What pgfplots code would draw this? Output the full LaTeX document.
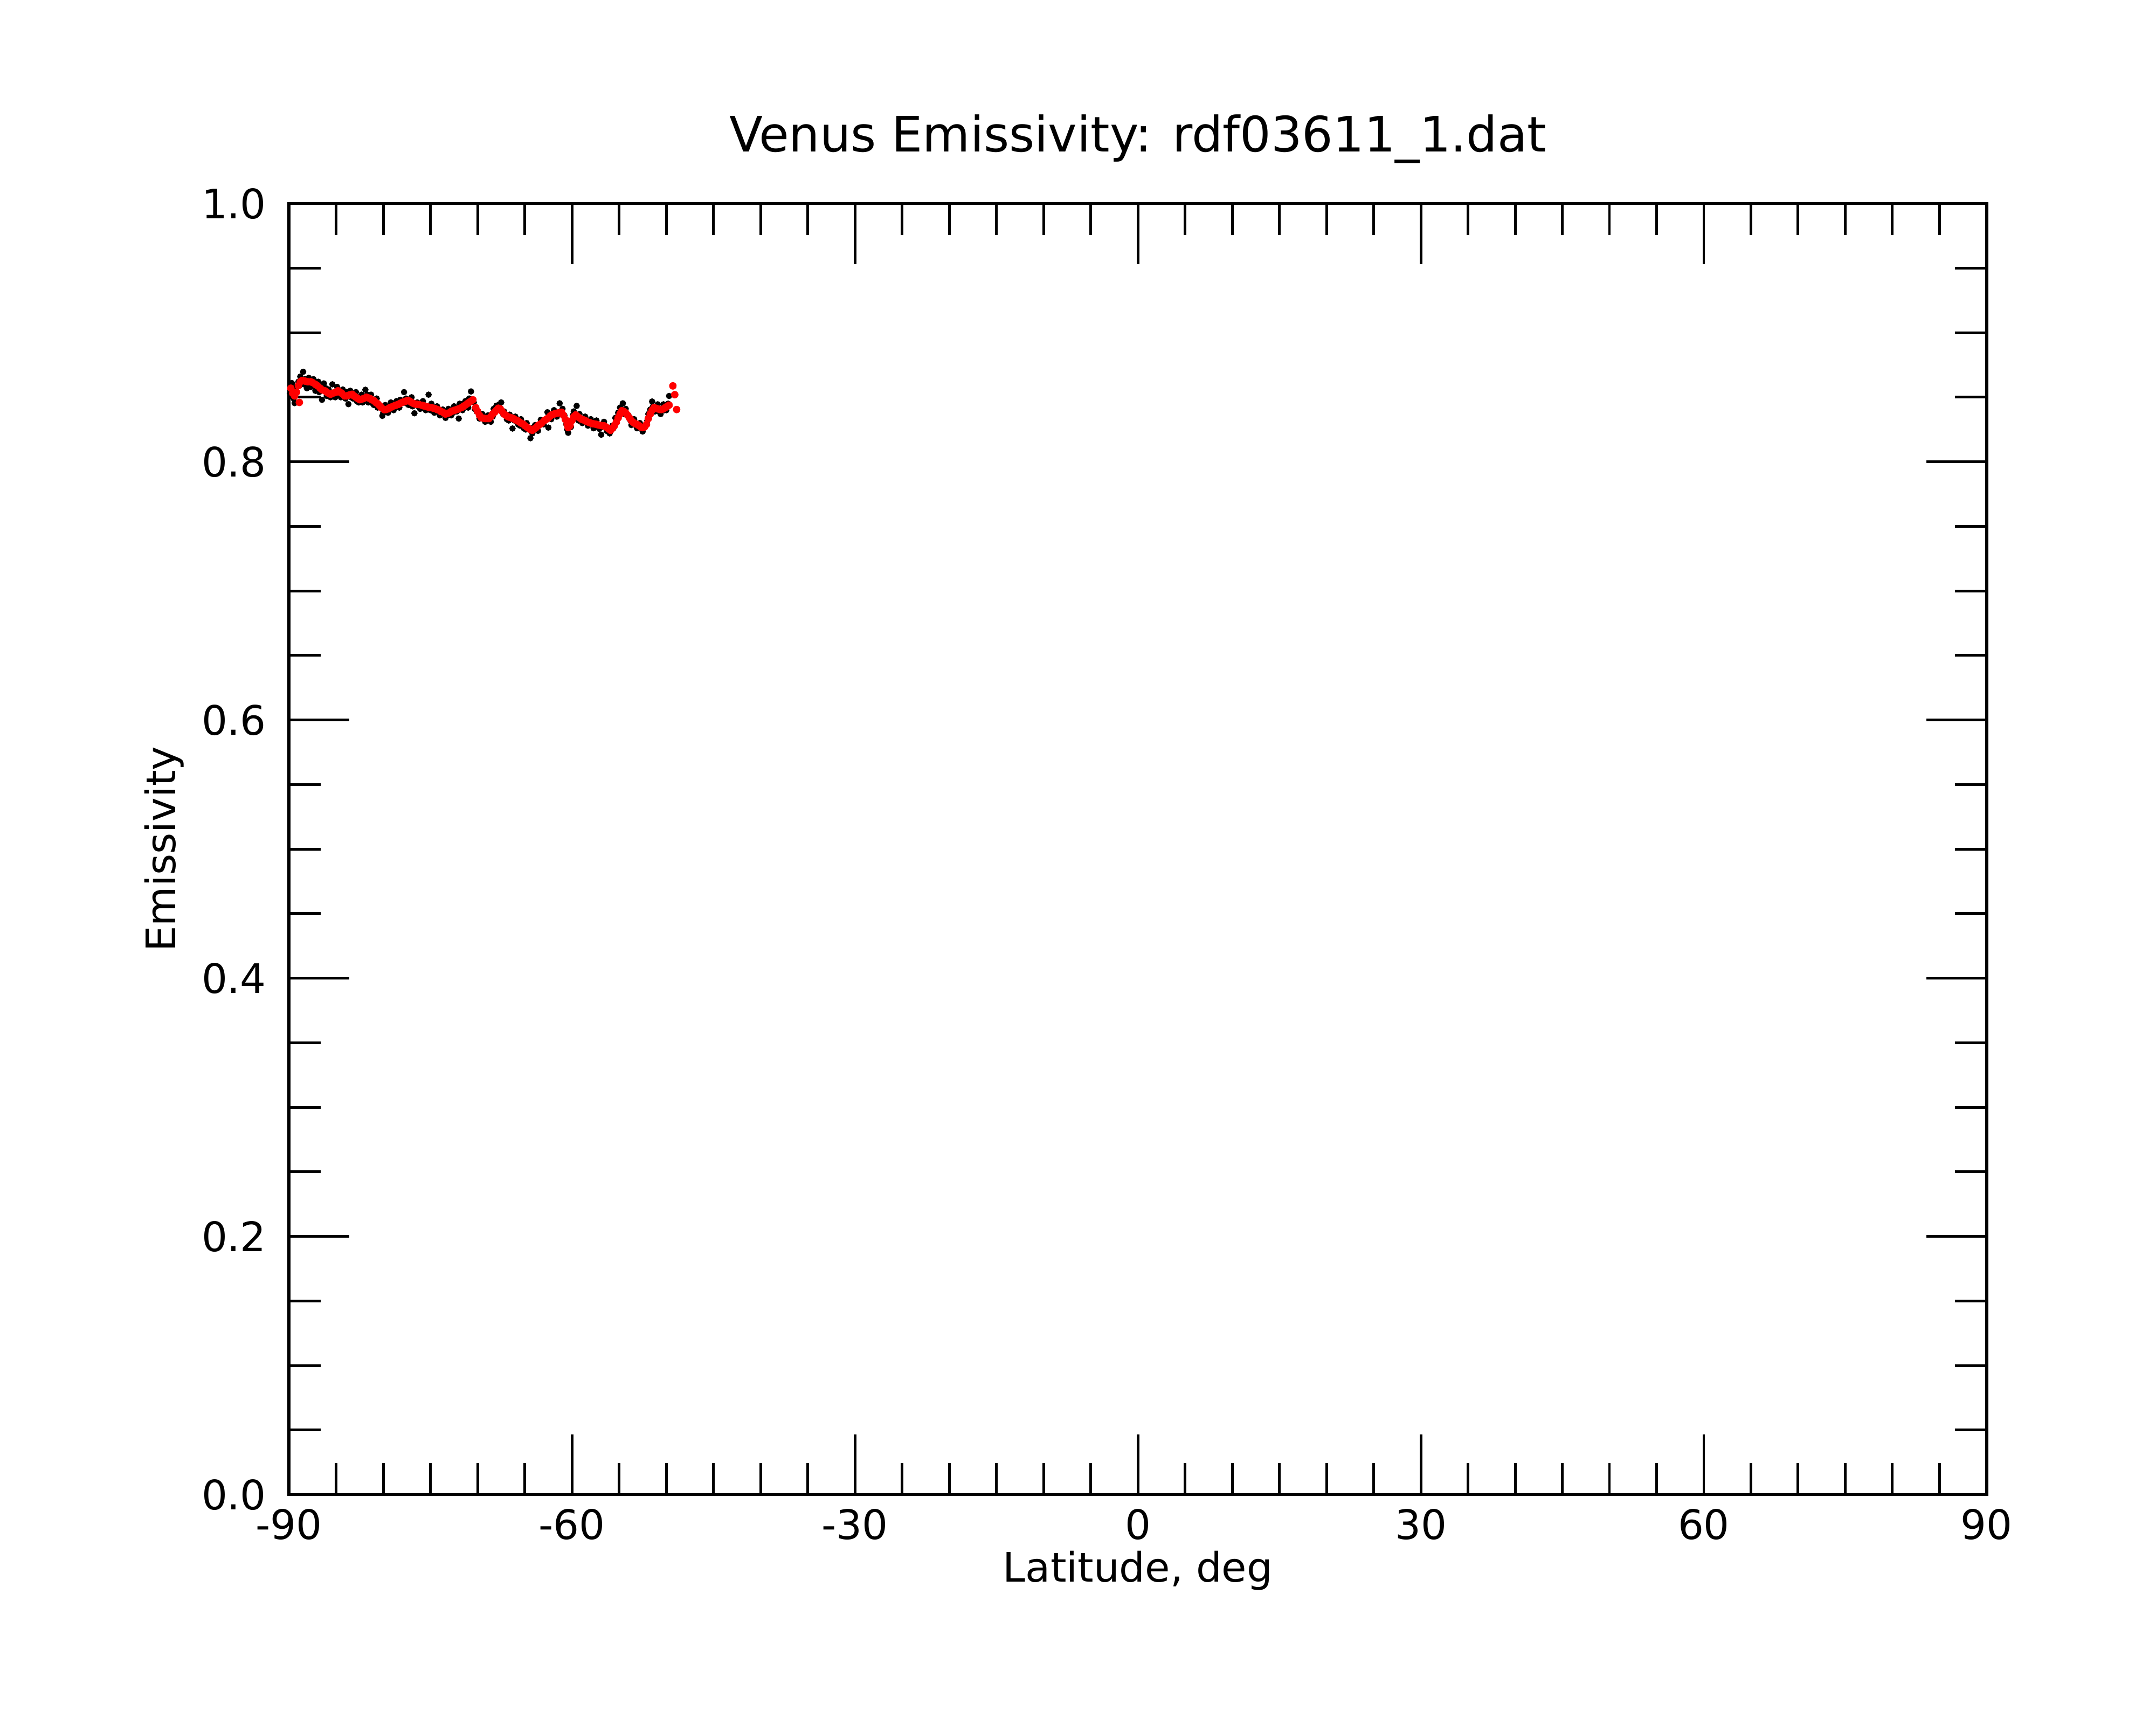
\documentclass[border=0pt]{standalone}
\usepackage{fontspec}
\setmainfont{DejaVu Sans}
\usepackage{pgfplots}
\pgfplotsset{compat=1.18}
\begin{document}
\begin{tikzpicture}
\begin{axis}[
  name=ax,
  scale only axis,
  width=455.3pt, height=346.2pt,
  xmin=-90, xmax=90, ymin=0, ymax=1,
  xtick={-90,-60,-30,0,30,60,90},
  xticklabels={-90,-60,-30,0,30,60,90},
  ytick={0,0.2,0.4,0.6,0.8,1.0},
  yticklabels={0.0,0.2,0.4,0.6,0.8,1.0},
  minor x tick num=5,
  minor y tick num=3,
  tick align=inside,
  major tick length=16.2pt,
  minor tick length=8.5pt,
  axis line style={line width=0.8pt},
  every tick/.style={black, line width=0.72pt},
  tick label style={font=\fontsize{10.9}{13}\selectfont},
  xticklabel style={anchor=base, inner sep=0pt, yshift=-11.9pt},
  yticklabel style={anchor=east, inner sep=0pt, xshift=-5.9pt},
  label style={font=\fontsize{10.9}{13}\selectfont},
  xlabel={Latitude, deg},
  ylabel={Emissivity},
  xlabel style={at={(axis description cs:0.5,-0.0676)}, anchor=base, inner sep=0pt},
  ylabel style={at={(axis description cs:-0.0668,0.5)}, anchor=base, inner sep=0pt},
  title={Venus Emissivity: rdf03611\_1.dat},
  title style={at={(axis description cs:0.5,1.04015)}, anchor=base, yshift=-6pt, inner sep=0pt, font=\fontsize{13.1}{15}\selectfont},
  clip=false,
]
% short black segment
\addplot[black, line width=0.55pt] coordinates {(-89.8,0.8505) (-86.6,0.8505)};
% black data points
\addplot[black, only marks, mark=*, mark size=0.8pt, mark options={solid, fill=black, draw=black, line width=0.1pt}] coordinates {
(-89.9,0.853) (-89.7,0.861) (-89.5,0.849) (-89.4,0.8455) (-89.2,0.858) (-89.0,0.862)
(-88.8,0.866) (-88.5,0.8697) (-88.3,0.864) (-88.1,0.857) (-87.9,0.865) (-87.7,0.858)
(-87.4,0.864) (-87.2,0.855) (-86.9,0.862) (-86.7,0.857) (-86.5,0.848) (-86.3,0.8607)
(-86.0,0.851) (-85.8,0.856) (-85.4,0.860) (-85.1,0.850) (-84.9,0.858) (-84.6,0.852)
(-84.3,0.856) (-84.0,0.849) (-83.7,0.8447) (-83.5,0.855) (-83.2,0.849) (-82.9,0.854)
(-82.6,0.846) (-82.3,0.852) (-81.9,0.8558) (-81.6,0.846) (-81.3,0.852) (-81.0,0.844)
(-80.7,0.849) (-80.4,0.843) (-80.1,0.8356) (-79.8,0.844) (-79.5,0.838) (-79.2,0.846)
(-78.9,0.840) (-78.6,0.847) (-78.3,0.842) (-77.8,0.854) (-77.6,0.849) (-77.3,0.844)
(-77.0,0.850) (-76.7,0.8376) (-76.4,0.846) (-76.1,0.841) (-75.8,0.847) (-75.5,0.840)
(-75.2,0.852) (-74.9,0.845) (-74.6,0.838) (-74.3,0.843) (-74.0,0.836) (-73.7,0.8405)
(-73.4,0.834) (-73.1,0.841) (-72.8,0.836) (-72.5,0.843) (-72.0,0.8335) (-71.9,0.845)
(-71.6,0.840) (-71.3,0.847) (-71.0,0.842) (-70.7,0.8545) (-70.4,0.846) (-70.1,0.839)
(-69.8,0.8335) (-69.5,0.837) (-69.2,0.831) (-68.9,0.836) (-68.6,0.831) (-68.3,0.841)
(-68.0,0.8435) (-67.7,0.8445) (-67.5,0.846) (-67.2,0.839) (-66.9,0.833) (-66.6,0.8365)
(-66.3,0.8258) (-66.0,0.835) (-65.7,0.829) (-65.4,0.833) (-65.1,0.826) (-64.8,0.830)
(-64.4,0.8183) (-64.2,0.822) (-63.9,0.8285) (-63.6,0.824) (-63.3,0.8325) (-63.0,0.829)
(-62.6,0.8384) (-62.5,0.8265) (-62.2,0.833) (-61.9,0.840) (-61.6,0.835) (-61.3,0.8453)
(-61.0,0.841) (-60.8,0.836) (-60.6,0.829) (-60.4,0.8225) (-60.1,0.827) (-59.8,0.839)
(-59.5,0.8433) (-59.2,0.837) (-58.9,0.830) (-58.6,0.835) (-58.3,0.828) (-58.0,0.833)
(-57.7,0.826) (-57.4,0.832) (-57.1,0.8255) (-56.9,0.821) (-56.6,0.831) (-56.3,0.824)
(-56.0,0.822) (-55.7,0.828) (-55.4,0.834) (-55.1,0.838) (-54.9,0.842) (-54.6,0.8453)
(-54.3,0.841) (-54.0,0.836) (-53.7,0.8285) (-53.4,0.833) (-53.1,0.826) (-52.8,0.830)
(-52.5,0.8235) (-52.2,0.828) (-51.9,0.837) (-51.7,0.8405) (-51.5,0.8467) (-51.2,0.839)
(-50.9,0.8445) (-50.6,0.837) (-50.3,0.8445) (-50.0,0.840) (-49.7,0.851)
(-89.6,0.858) (-89.3,0.855) (-88.9,0.859) (-88.4,0.860) (-87.8,0.859) (-87.3,0.858)
(-86.8,0.854) (-86.1,0.857) (-85.6,0.850) (-85.0,0.852) (-84.5,0.850) (-83.9,0.854)
(-83.4,0.850) (-82.8,0.847) (-82.2,0.846) (-81.7,0.852) (-81.1,0.845) (-80.6,0.842)
(-80.0,0.838) (-79.4,0.843) (-78.8,0.842) (-78.2,0.848) (-77.5,0.845) (-76.9,0.843)
(-76.3,0.843) (-75.6,0.841) (-75.0,0.840) (-74.4,0.839) (-73.8,0.837) (-73.2,0.836)
(-72.6,0.838) (-72.2,0.839) (-71.5,0.845) (-70.9,0.849) (-70.3,0.841) (-69.7,0.836)
(-69.0,0.833) (-68.4,0.835) (-67.9,0.840) (-67.3,0.837) (-66.7,0.832) (-66.1,0.832)
(-65.5,0.828) (-64.9,0.825) (-64.3,0.826) (-63.7,0.827) (-63.1,0.831) (-62.4,0.836)
(-61.8,0.836) (-61.2,0.838) (-60.5,0.825) (-59.9,0.836) (-59.3,0.832) (-58.7,0.831)
(-58.1,0.829) (-57.5,0.827) (-56.8,0.827) (-56.2,0.8235) (-55.6,0.826) (-55.0,0.836)
(-54.4,0.837) (-53.8,0.832) (-53.2,0.828) (-52.6,0.826) (-52.0,0.832) (-51.4,0.843)
(-50.8,0.839) (-50.2,0.840) (-49.8,0.845)
};
% red smoothed points
\addplot[red, only marks, mark=*, mark size=0.95pt, mark options={solid, fill=red, draw=red, line width=0.1pt}] coordinates {
(-89.8,0.857) (-89.6,0.853) (-89.4,0.851) (-89.2,0.854) (-88.9,0.846) (-89.0,0.859)
(-88.8,0.862) (-88.6,0.863) (-88.3,0.8625) (-88.0,0.862) (-87.7,0.862) (-87.5,0.8614)
(-87.2,0.860) (-87.0,0.859) (-86.7,0.857) (-86.5,0.8558) (-86.2,0.855) (-86.0,0.854)
(-85.8,0.853) (-85.6,0.8523) (-85.4,0.853) (-85.2,0.8535) (-85.0,0.854) (-84.8,0.855)
(-84.6,0.854) (-84.4,0.853) (-84.1,0.851) (-83.9,0.851) (-83.7,0.8515) (-83.5,0.852)
(-83.3,0.8523) (-83.1,0.851) (-82.9,0.850) (-82.7,0.849) (-82.5,0.8481) (-82.3,0.8485)
(-82.1,0.849) (-81.8,0.850) (-81.6,0.8495) (-81.4,0.849) (-81.2,0.848) (-81.0,0.8475)
(-80.8,0.846) (-80.6,0.845) (-80.4,0.8435) (-80.2,0.842) (-79.9,0.8404) (-79.7,0.8405)
(-79.5,0.841) (-79.3,0.842) (-79.1,0.8425) (-78.8,0.8435) (-78.6,0.844) (-78.4,0.8445)
(-78.2,0.8453) (-78.0,0.846) (-77.8,0.8465) (-77.6,0.847) (-77.4,0.8475) (-77.2,0.847)
(-77.0,0.846) (-76.8,0.8452) (-76.6,0.8447) (-76.4,0.8445) (-76.2,0.8443) (-75.9,0.8438)
(-75.7,0.8433) (-75.5,0.843) (-75.3,0.8425) (-75.1,0.8422) (-74.9,0.842) (-74.7,0.8415)
(-74.5,0.8412) (-74.3,0.8405) (-74.1,0.840) (-73.9,0.839) (-73.7,0.8385) (-73.5,0.8375)
(-73.4,0.837) (-73.2,0.8375) (-73.0,0.838) (-72.8,0.839) (-72.6,0.8395) (-72.4,0.840)
(-72.2,0.8405) (-72.0,0.841) (-71.7,0.842) (-71.5,0.843) (-71.3,0.8439) (-71.1,0.845)
(-70.9,0.846) (-70.7,0.847) (-70.5,0.848) (-70.2,0.842) (-70.0,0.839) (-69.8,0.836)
(-69.6,0.8342) (-69.4,0.8338) (-69.2,0.8335) (-69.0,0.8335) (-68.8,0.8335) (-68.6,0.835)
(-68.4,0.837) (-68.2,0.8384) (-68.0,0.840) (-67.8,0.8415) (-67.6,0.841) (-67.4,0.839)
(-67.2,0.837) (-67.0,0.836) (-66.8,0.835) (-66.6,0.8345) (-66.4,0.834) (-66.2,0.8335)
(-66.0,0.8325) (-65.8,0.832) (-65.6,0.831) (-65.4,0.830) (-65.2,0.8293) (-65.0,0.828)
(-64.8,0.827) (-64.6,0.826) (-64.4,0.825) (-64.2,0.8244) (-64.0,0.8255) (-63.8,0.8265)
(-63.6,0.828) (-63.4,0.829) (-63.2,0.830) (-62.9,0.8321) (-62.7,0.833) (-62.5,0.834)
(-62.3,0.8355) (-62.1,0.8365) (-61.9,0.837) (-61.7,0.8375) (-61.5,0.8378) (-61.3,0.838)
(-61.1,0.8384) (-60.9,0.836) (-60.7,0.8328) (-60.5,0.829) (-60.4,0.8265) (-60.2,0.828)
(-60.0,0.832) (-59.8,0.835) (-59.6,0.8363) (-59.4,0.835) (-59.2,0.834) (-59.0,0.833)
(-58.8,0.8325) (-58.6,0.832) (-58.4,0.831) (-58.2,0.8305) (-58.0,0.830) (-57.8,0.8295)
(-57.6,0.8293) (-57.4,0.829) (-57.2,0.8285) (-57.0,0.8283) (-56.8,0.828) (-56.6,0.8279)
(-56.4,0.827) (-56.2,0.826) (-56.0,0.825) (-55.9,0.8244) (-55.7,0.826) (-55.5,0.828)
(-55.3,0.8306) (-55.1,0.834) (-54.9,0.837) (-54.7,0.8396) (-54.5,0.839) (-54.3,0.838)
(-54.1,0.836) (-53.9,0.834) (-53.7,0.832) (-53.5,0.8305) (-53.3,0.8295) (-53.1,0.829)
(-52.9,0.828) (-52.7,0.827) (-52.5,0.8265) (-52.3,0.827) (-52.1,0.829) (-51.9,0.8335)
(-51.7,0.837) (-51.5,0.840) (-51.3,0.842) (-51.1,0.8415) (-50.9,0.841) (-50.7,0.8405)
(-50.5,0.8405) (-50.3,0.841) (-50.1,0.842) (-49.9,0.843) (-49.7,0.8439)
(-49.3,0.8588) (-49.1,0.852) (-48.9,0.8405)
};
\end{axis}
\pgfresetboundingbox
\path[use as bounding box] ([shift={(-77.5pt,-61.7pt)}]ax.south west) rectangle ([shift={(45.4pt,54.6pt)}]ax.north east);
\end{tikzpicture}
\end{document}
